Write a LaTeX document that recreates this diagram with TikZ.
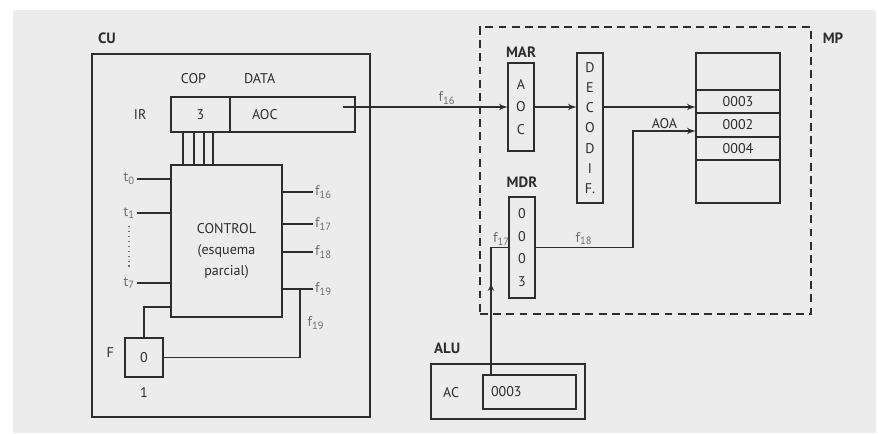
\documentclass[tikz,border=0pt]{standalone}
\usepackage{fontspec}
\setmainfont{PT Sans}
\usepackage{tikz}
\usetikzlibrary{arrows, positioning, calc, decorations.markings}
\definecolor{panel}{RGB}{236,236,236}
\definecolor{ink}{RGB}{45,45,45}
\definecolor{faint}{RGB}{110,110,110}
\tikzset{
    cell/.style = {rectangle, draw=ink, thick, inner sep=0pt, outer sep=0pt, text=ink, font=\fontsize{8}{9.6}\selectfont},
    title/.style = {font=\fontsize{8.5}{10}\selectfont\bfseries, text=ink, inner sep=1pt},
    tag/.style = {font=\fontsize{8}{9.6}\selectfont, text=ink, inner sep=1pt},
    signal/.style = {font=\fontsize{8}{9.6}\selectfont, text=faint, inner sep=1pt},
    wire/.style = {draw=ink, thick},
    line/.style = {draw=ink, -latex', thick},
    midarrow/.style = {postaction={decorate}, decoration={markings, mark=at position 0.64 with {\arrow{latex'}}}},
    container/.style = {draw=ink, rectangle, thick, dash pattern=on 4.5pt off 3pt}
}
\begin{document}
\begin{tikzpicture}[x=0.02cm, y=-0.02cm, node distance=0.2cm]
        \useasboundingbox (0,0) rectangle (878,433);
        \fill [panel] (13,10) rectangle (876,433);

        % Control unit
        \node [cell, minimum width=5.56cm, minimum height=7.26cm] (cu) at (231,235.5) {};
        \node [title, anchor=base west] (lcu) at ($(cu.north west)+(4,-11)$) {CU};

        % Instruction register
        \node [cell, minimum width=1.18cm, minimum height=0.70cm] (cop) at (200.5,114.5) {3};
        \node [cell, minimum height=0.70cm, text width=1.62cm, inner xsep=0.44cm, align=left] (data) at (292.5,114.5) {AOC};
        \node [tag, above=0.22cm of cop, xshift=-0.14cm] (lcop) {COP};
        \node [tag, anchor=west] (ldata) at ($(data.north west)+(12,-18)$) {DATA};
        \node [tag, left=0.45cm of cop] (lir) {IR};

        % Control block
        \node [cell, minimum width=2.22cm, minimum height=3.04cm] (ctrl) at (226.5,241) {};
        \node [tag, align=center, font=\fontsize{8}{12}\selectfont] (lctrl) at ($(ctrl.center)+(0,10)$) {CONTROL\\(esquema\\parcial)};
        \foreach \dx in {12,23,33,42}
            \draw [wire] ($(cop.south west)+(\dx,0)$) coordinate (bus) -- (bus |- ctrl.north);

        % Timing inputs
        \foreach \i/\y in {0/179, 1/213, 7/283}{
            \node [signal, anchor=east] (t\i) at (137,\y) {t\textsubscript{\i}};
            \draw [wire] (t\i.east) -- (ctrl.west |- t\i.east);
        }
        \draw [faint, thick, dotted] ([yshift=-3pt]t1.south) -- ([yshift=3pt]t7.north);

        % Control outputs
        \foreach \i/\y in {16/192, 17/224, 18/252, 19/289}{
            \node [signal, anchor=west] (f\i) at (313,\y) {f\textsubscript{\i}};
            \draw [wire] (ctrl.east |- f\i.west) -- (f\i.west);
        }

        % Flag
        \node [cell, minimum width=0.76cm, minimum height=0.78cm] (flag) at (144,357.5) {0};
        \node [tag, left=0.18cm of flag, yshift=0.1cm] (lflag) {F};
        \node [tag, below=0.17cm of flag] (lone) {1};
        \draw [wire] (flag.north) |- ([yshift=0.2cm]ctrl.south west);
        \coordinate (j19) at ($(ctrl.east |- f19.west)+(18,0)$);
        \draw [wire] (j19) |- node [signal, pos=0.25, right=3pt] (f19b) {f\textsubscript{19}} (flag.east);

        % Main memory
        \node [container, minimum width=6.62cm, minimum height=5.74cm] (mp) at (645.5,170.5) {};
        \node [title, anchor=north west] (lmp) at ($(mp.north east)+(9,4)$) {MP};
        \node [cell, minimum width=0.52cm, minimum height=1.76cm, align=center, font=\fontsize{8}{13}\selectfont] (mar) at (521,107) {A\\O\\C};
        \node [title, above=0.07cm of mar] (lmar) {MAR};
        \node [cell, minimum width=0.52cm, minimum height=3.00cm, align=center, font=\fontsize{8}{11.5}\selectfont] (dec) at (590,128) {D\\E\\C\\O\\D\\I\\F.};
        \node [cell, minimum width=1.68cm, minimum height=0.74cm] (mem0) at (738,71.5) {};
        \node [cell, minimum width=1.68cm, minimum height=0.46cm, below=0pt of mem0] (mem3) {0003};
        \node [cell, minimum width=1.68cm, minimum height=0.48cm, below=0pt of mem3] (mem2) {0002};
        \node [cell, minimum width=1.68cm, minimum height=0.46cm, below=0pt of mem2] (mem4) {0004};
        \node [cell, minimum width=1.68cm, minimum height=0.86cm, below=0pt of mem4] (mem5) {};
        \node [cell, minimum width=0.52cm, minimum height=2.02cm, align=center, font=\fontsize{8}{12.9}\selectfont] (mdr) at (522,247.5) {0\\0\\0\\3};
        \node [title, above=0.15cm of mdr] (lmdr) {MDR};

        % Arithmetic unit
        \node [cell, minimum width=3.08cm, minimum height=1.10cm] (alu) at (508,391.5) {};
        \node [title, anchor=base west] (lalu) at ($(alu.north west)+(1,-11)$) {ALU};
        \node [tag, anchor=west] (lac) at ($(alu.west)+(10,1)$) {AC};
        \node [cell, minimum height=0.68cm, text width=1.54cm, inner xsep=0.16cm, align=left] (ac) at (529.5,392) {0003};

        % Arrows
        \draw [line] ($(data.east |- mar.west)+(-12,0)$) -- node [signal, pos=0.63, above] (f16b) {f\textsubscript{16}} (mar.west);
        \draw [line] (mar.east) -- (dec.west |- mar.east);
        \draw [line] (dec.east |- mar.east) -- (mem3.west |- mar.east);
        \coordinate (j18) at (633,131);
        \draw [line] (mdr.east) -| node [signal, pos=0.25, above] (f18b) {f\textsubscript{18}} (j18) -- node [tag, above] (laoa) {AOA} (mem2.west |- j18);
        \coordinate (j17) at ($(mdr.west)+(-18,0)$);
        \draw [wire, midarrow] (ac.north -| j17) -- (j17) -- (mdr.west);
        \node [signal, anchor=south west] (f17b) at (j17) {f\textsubscript{17}};

    \end{tikzpicture}
\end{document}
